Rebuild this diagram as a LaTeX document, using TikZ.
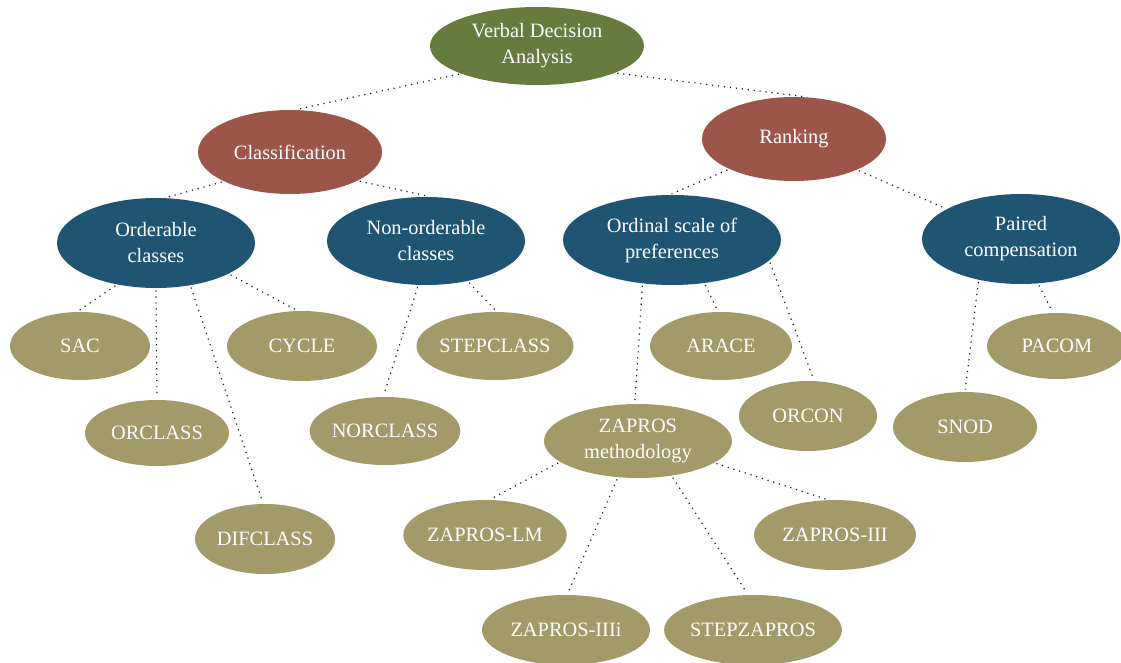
\documentclass[tikz,border=0pt]{standalone}
\usepackage{fontspec}
\setmainfont{Liberation Serif}
\usepackage{xcolor}
\usepackage{tikz}
\usetikzlibrary{shapes.geometric}

\definecolor{rootgreen}{HTML}{667B3E}
\definecolor{branchred}{HTML}{9B5649}
\definecolor{groupblue}{HTML}{1F5573}
\definecolor{leafkhaki}{HTML}{A39A6A}

\begin{document}
\begin{tikzpicture}[
    bubble/.style={ellipse, inner sep=0pt, align=center, text=white, font=\fontsize{14.5}{18.5}\selectfont},
    root/.style={bubble, fill=rootgreen},
    branch/.style={bubble, fill=branchred},
    group/.style={bubble, fill=groupblue},
    leaf/.style={bubble, fill=leafkhaki},
    link/.style={draw=black!90, line width=0.85pt, dash pattern=on 0.85pt off 3.4pt, shorten <=1.5pt, shorten >=1.5pt}
]
\useasboundingbox (0,0) rectangle (28.025,-16.575);

\node[root, minimum width=5.35cm, minimum height=1.95cm] (vda) at (13.425,-1.15) {Verbal Decision\\Analysis};
\node[branch, minimum width=4.6cm, minimum height=2.1cm] (classif) at (7.25,-3.8) {Classification};
\node[branch, minimum width=4.6cm, minimum height=2.1cm] (ranking) at (19.85,-3.475) {Ranking};

\node[group, minimum width=4.95cm, minimum height=2.25cm] (orderable) at (3.9,-6.075) {Orderable\\classes};
\node[group, minimum width=4.95cm, minimum height=2.2cm] (nonorder) at (10.65,-6.025) {Non-orderable\\classes};
\node[group, minimum width=5.45cm, minimum height=2.25cm] (ordinal) at (16.8,-6.0) {Ordinal scale of\\preferences};
\node[group, minimum width=4.95cm, minimum height=2.25cm] (paired) at (25.525,-5.975) {Paired\\compensation};

\node[leaf, minimum width=3.5cm, minimum height=1.7cm] (sac) at (2.0,-8.65) {SAC};
\node[leaf, minimum width=3.75cm, minimum height=1.75cm] (cycle) at (7.55,-8.65) {CYCLE};
\node[leaf, minimum width=3.6cm, minimum height=1.65cm] (orclass) at (3.925,-10.825) {ORCLASS};
\node[leaf, minimum width=3.5cm, minimum height=1.75cm] (difclass) at (6.625,-13.475) {DIFCLASS};
\node[leaf, minimum width=3.6cm, minimum height=1.7cm] (norclass) at (9.625,-10.775) {NORCLASS};
\node[leaf, minimum width=3.8cm, minimum height=1.7cm] (stepclass) at (12.375,-8.65) {STEPCLASS};
\node[leaf, minimum width=3.55cm, minimum height=1.7cm] (arace) at (18.025,-8.65) {ARACE};
\node[leaf, minimum width=3.45cm, minimum height=1.75cm] (orcon) at (20.2,-10.4) {ORCON};
\node[leaf, minimum width=4.7cm, minimum height=1.85cm] (zapros) at (15.95,-11.025) {ZAPROS\\methodology};
\node[leaf, minimum width=3.6cm, minimum height=1.75cm] (snod) at (24.125,-10.675) {SNOD};
\node[leaf, minimum width=3.5cm, minimum height=1.65cm] (pacom) at (26.425,-8.65) {PACOM};
\node[leaf, minimum width=4.05cm, minimum height=1.75cm] (zlm) at (12.125,-13.375) {ZAPROS-LM};
\node[leaf, minimum width=4.05cm, minimum height=1.75cm] (ziii) at (20.875,-13.375) {ZAPROS-III};
\node[leaf, minimum width=4.2cm, minimum height=1.75cm] (ziiii) at (14.15,-15.75) {ZAPROS-IIIi};
\node[leaf, minimum width=4.35cm, minimum height=1.75cm] (stepz) at (18.825,-15.75) {STEPZAPROS};

\draw[link] (vda.200) -- (classif.83);
\draw[link] (vda.-19) -- (ranking.70);
\draw[link] (classif.204) -- (orderable.79);
\draw[link] (classif.-23) -- (nonorder.84);
\draw[link] (ranking.205) -- (ordinal.93);
\draw[link] (ranking.-26) -- (paired.158);
\draw[link] (orderable.227) -- (sac.95);
\draw[link] (orderable.270) -- (orclass.90);
\draw[link] (orderable.-51) -- (difclass.93);
\draw[link] (orderable.-23) -- (cycle.97);
\draw[link] (nonorder.260) -- (norclass.93);
\draw[link] (nonorder.-44) -- (stepclass.87);
\draw[link] (ordinal.236) -- (zapros.95);
\draw[link] (ordinal.-53) -- (arace.95);
\draw[link] (ordinal.-12) -- (orcon.80);
\draw[link] (paired.224) -- (snod.90);
\draw[link] (paired.-69) -- (pacom.97);
\draw[link] (zapros.195) -- (zlm.83);
\draw[link] (zapros.241) -- (ziiii.88);
\draw[link] (zapros.-46) -- (stepz.98);
\draw[link] (zapros.-16) -- (ziii.101);
\end{tikzpicture}
\end{document}
